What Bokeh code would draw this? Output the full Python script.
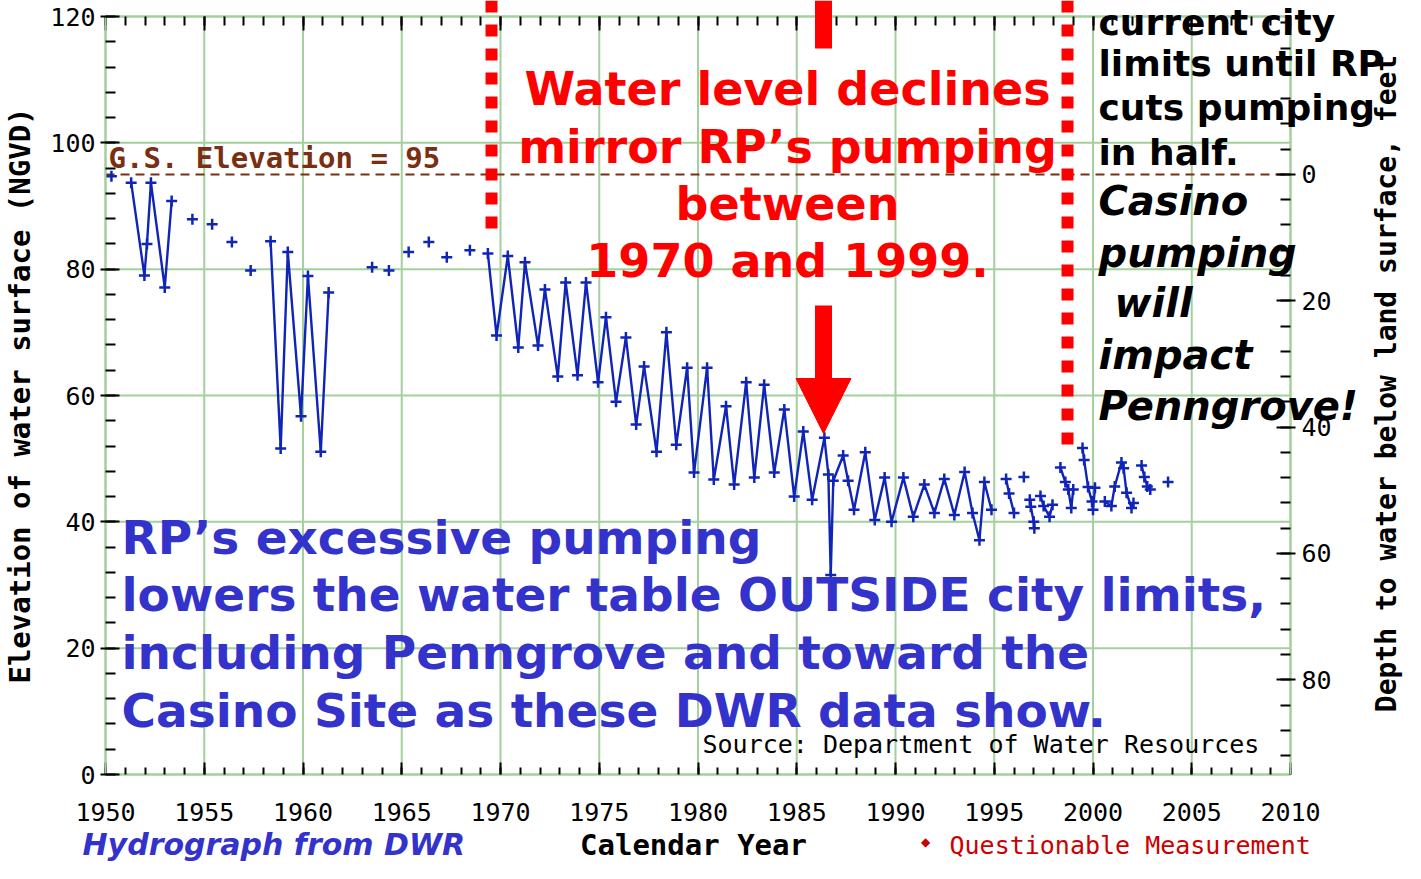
import math
from bokeh.plotting import figure
from bokeh.models import (Range1d, LinearAxis, SingleIntervalTicker, FixedTicker, Label,
                          Arrow, NormalHead)
from bokeh.embed import file_html
from bokeh.resources import INLINE

nan = float("nan")

# ---- data: measurement date (decimal year) and water-surface elevation (ft, NGVD); NaN = gap
years = [
    1950.3, nan,
    1951.3, 1951.97, 1952.1, 1952.3, 1953.0, 1953.35, nan,
    1954.4, nan, 1955.4, nan, 1956.4, nan, 1957.35, nan,
    1958.36, 1958.87, 1959.23, 1959.9, 1960.25, 1960.9, 1961.3, nan,
    1963.5, nan, 1964.35, nan, 1965.35, nan, 1966.37, nan, 1967.28, nan, 1968.45, nan,
    1969.36, 1969.8, 1970.37, 1970.9, 1971.24, 1971.9, 1972.25, 1972.9, 1973.3, 1973.9,
    1974.33, 1974.94, 1975.34, 1975.85, 1976.35, 1976.87, 1977.27, 1977.9, 1978.4, 1978.9,
    1979.45, 1979.8, 1980.46, 1980.8, 1981.42, 1981.83, 1982.44, 1982.85, 1983.35, 1983.86,
    1984.37, 1984.87, 1985.33, 1985.78, 1986.4, 1986.6, 1986.72, 1986.85, 1987.35, 1987.6,
    1987.9, 1988.47, 1988.95, 1989.45, 1989.8, 1990.4, 1990.9, 1991.46, 1991.97, 1992.47,
    1992.98, 1993.5, 1993.9, 1994.25, 1994.5, 1994.86, nan,
    1995.6, 1995.75, 1996.0, nan, 1996.5, nan,
    1996.8, 1996.85, 1997.0, 1997.03, nan,
    1997.34, 1997.5, 1997.8, 1997.95, nan,
    1998.35, 1998.6, 1998.75, 1998.9, 1999.0, nan,
    1999.47, 1999.55, 1999.75, 1999.95, 2000.0, 2000.1, nan,
    2000.6, 2000.93, 2001.1, 2001.44, 2001.55, 2001.7, 2001.95, 2002.05, nan,
    2002.46, 2002.6, 2002.75, 2002.9, nan,
    2003.8,
]
elev = [
    94.7, nan,
    93.7, 79.0, 84.0, 93.7, 77.1, 90.8, nan,
    87.9, nan, 87.1, nan, 84.3, nan, 79.8, nan,
    84.4, 51.6, 82.7, 56.7, 78.9, 51.1, 76.3, nan,
    80.3, nan, 79.8, nan, 82.7, nan, 84.3, nan, 81.9, nan, 83.0, nan,
    82.5, 69.5, 82.1, 67.6, 81.1, 67.9, 76.8, 63.0, 77.9, 63.2,
    77.9, 62.1, 72.4, 59.0, 69.2, 55.4, 64.6, 51.1, 70.0, 52.2,
    64.4, 47.8, 64.4, 46.7, 58.3, 45.9, 62.1, 47.0, 61.7, 47.8,
    57.8, 44.0, 54.3, 43.5, 53.3, 47.5, 31.6, 46.5, 50.5, 46.5,
    41.9, 51.0, 40.3, 47.0, 40.0, 47.0, 40.8, 45.9, 41.4, 46.8,
    41.1, 47.9, 41.4, 37.1, 46.3, 41.9, nan,
    46.8, 44.5, 41.4, nan, 47.1, nan,
    43.5, 42.4, 40.0, 39.0, nan,
    44.1, 42.5, 40.8, 42.7, nan,
    48.6, 46.3, 45.1, 42.2, 45.1, nan,
    51.7, 49.8, 45.5, 43.2, 41.9, 45.4, nan,
    43.2, 42.5, 45.6, 49.4, 48.5, 44.6, 42.2, 43.0, nan,
    48.9, 47.1, 45.6, 45.1, nan,
    46.3,
]

x_min, x_max, x_step = 1950, 2010, 5
y_min, y_max, y_step = 0, 120, 20
depth_ticks = [0, 20, 40, 60, 80]
gs_elevation = 95
x_grid = list(range(x_min, x_max + 1, x_step))
y_grid = list(range(y_min, y_max + 1, y_step))

GREEN = "#a3d09c"
BLUE = "#1024b8"
TEXT_BLUE = "#3333cc"
BROWN = "#7a2e12"
MONO = "DejaVu Sans Mono"
SANS = "DejaVu Sans"

# plot box placement on the canvas (pixels); the frame covers the whole canvas
W, H = 1405, 863
BL, BR, BT, BB = 105, 1290, 16, 774
SX = (BR - BL) / (x_max - x_min)
SY = (BB - BT) / (y_max - y_min)
xr = Range1d(x_min - BL / SX, x_max + (W - BR) / SX)
yr = Range1d(y_min - (H - BB) / SY, y_max + BT / SY)

p = figure(width=W, height=H, x_range=xr, y_range=yr, title=None,
           output_backend="svg", toolbar_location=None,
           min_border=0, min_border_left=0, min_border_right=0,
           min_border_top=0, min_border_bottom=0)
p.outline_line_color = None
p.background_fill_color = "white"
p.xgrid.visible = False
p.ygrid.visible = False

def X(px):
    return x_min + (px - BL) / SX

def Y(py):
    return y_min + (BB - py) / SY

# grid lines limited to the plot box
p.segment(x0=x_grid, y0=[y_min] * len(x_grid), x1=x_grid, y1=[y_max] * len(x_grid),
          line_color=GREEN, line_width=2)
p.segment(x0=[x_min] * len(y_grid), y0=y_grid, x1=[x_max] * len(y_grid), y1=y_grid,
          line_color=GREEN, line_width=2)

def style_axis(ax):
    ax.axis_line_color = GREEN
    ax.axis_line_width = 2
    ax.major_tick_line_color = "black"
    ax.minor_tick_line_color = "black"
    ax.major_tick_line_width = 2
    ax.minor_tick_line_width = 2
    ax.major_label_text_font = MONO
    ax.major_label_text_font_size = "25px"
    ax.major_label_text_color = "black"
    ax.axis_label_text_font = MONO
    ax.axis_label_text_font_style = "bold"
    ax.axis_label_text_font_size = "29px"
    ax.axis_label_text_color = "black"

# bottom axis
xa = p.xaxis[0]
xa.ticker = SingleIntervalTicker(interval=x_step, num_minor_ticks=5)
style_axis(xa)
xa.fixed_location = y_min
xa.bounds = (x_min, x_max)
xa.major_tick_in = 12
xa.major_tick_out = 0
xa.minor_tick_in = 7
xa.minor_tick_out = 0
xa.major_label_standoff = 28

# top axis (ticks only)
ta = LinearAxis(ticker=SingleIntervalTicker(interval=x_step, num_minor_ticks=5))
style_axis(ta)
ta.fixed_location = y_max
ta.bounds = (x_min, x_max)
ta.major_tick_in = 14
ta.major_tick_out = 0
ta.minor_tick_in = 9
ta.minor_tick_out = 0
ta.major_label_text_color = None
p.add_layout(ta, "above")

# left axis
ya = p.yaxis[0]
ya.ticker = SingleIntervalTicker(interval=y_step, num_minor_ticks=5)
style_axis(ya)
ya.fixed_location = x_min
ya.bounds = (y_min, y_max)
ya.major_tick_in = 14
ya.major_tick_out = 5
ya.minor_tick_in = 10
ya.minor_tick_out = 0
ya.major_label_standoff = 5
ya.axis_label = "Elevation of water surface (NGVD)"
ya.axis_label_standoff = 10

# right axis: depth below land surface
p.extra_y_ranges = {"depth": Range1d(gs_elevation - yr.start, gs_elevation - yr.end)}
ra = LinearAxis(y_range_name="depth",
                ticker=FixedTicker(ticks=depth_ticks, minor_ticks=list(range(-24, 96, 4))))
style_axis(ra)
ra.fixed_location = x_max
ra.bounds = (gs_elevation - y_max, gs_elevation - y_min)
ra.major_tick_in = 14
ra.major_tick_out = 5
ra.minor_tick_in = 10
ra.minor_tick_out = 0
ra.major_label_standoff = 6
p.add_layout(ra, "right")

# G.S. elevation line
p.segment(x0=[x_min], y0=[gs_elevation], x1=[x_max], y1=[gs_elevation],
          line_color=BROWN, line_width=2, line_dash="9 6")

# hydrograph
p.line(years, elev, line_color=BLUE, line_width=2.4)
p.scatter(years, elev, marker="cross", size=11, line_color=BLUE, line_width=2.5)

def lab(text, px, py, size, color, font=SANS, style="bold", align="left",
        baseline="middle", angle=0.0):
    p.add_layout(Label(x=X(px), y=Y(py), text=text, text_font=font, text_font_style=style,
                       text_font_size=f"{size}px", text_color=color, text_align=align,
                       text_baseline=baseline, angle=angle))

# red dotted vertical lines
for px, pbot in ((491, 228), (1067, 445)):
    p.add_layout(Arrow(end=None, x_start=X(px), y_start=Y(0), x_end=X(px), y_end=Y(pbot),
                       line_color="red", line_width=12, line_dash="12 12"))

# red arrows
p.add_layout(Arrow(end=None, x_start=X(823), y_start=Y(0), x_end=X(823), y_end=Y(48),
                   line_color="red", line_width=17))
p.add_layout(Arrow(end=None, x_start=X(823), y_start=Y(305), x_end=X(823), y_end=Y(379),
                   line_color="red", line_width=17))
p.add_layout(Arrow(end=NormalHead(size=55, fill_color="red", line_color="red", line_width=1),
                   x_start=X(823), y_start=Y(378), x_end=X(823), y_end=Y(433),
                   line_alpha=0))

lab("G.S. Elevation = 95", 108, 157, 29, BROWN, font=MONO)
lab("Source: Department of Water Resources", 702, 744, 25, "black", font=MONO, style="normal")

for t, py in (("Water level declines", 88), ("mirror RP\u2019s pumping", 146),
              ("between", 203), ("1970 and 1999.", 260)):
    lab(t, 787, py, 46, "#ff0000", align="center")

for t, py in (("RP\u2019s excessive pumping", 537),
              ("lowers the water table OUTSIDE city limits,", 594),
              ("including Penngrove and toward the", 652),
              ("Casino Site as these DWR data show.", 710)):
    lab(t, 121, py, 47, TEXT_BLUE)

for t, py in (("current city", 22), ("limits until RP", 63), ("cuts pumping", 107),
              ("in half.", 152)):
    lab(t, 1098, py, 36, "black")

for t, px, py in (("Casino", 1098, 200), ("pumping", 1098, 252), ("will", 1114, 302),
                  ("impact", 1098, 354), ("Penngrove!", 1098, 405)):
    lab(t, px, py, 40, "black", style="bold italic")

lab("Calendar Year", 693, 844, 29, "black", font=MONO, align="center")
lab("Hydrograph from DWR", 82, 844, 30, TEXT_BLUE, style="bold italic")
lab("\u25c6", 925, 841, 12, "#cc0000", font=SANS, style="normal", align="center")
lab("Questionable Measurement", 949, 845, 25, "#cc0000", font=MONO, style="normal")
lab("Depth to water below land surface, feet", 1386, 383, 28, "black", font=MONO,
    style="bold", align="center", angle=math.pi / 2)

open("out.html", "w").write(file_html(p, INLINE))
